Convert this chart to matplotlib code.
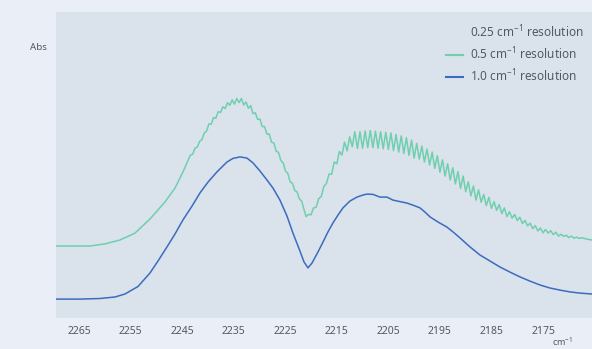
import matplotlib.pyplot as plt
from matplotlib.lines import Line2D

plt.rcParams['font.family'] = ['Noto Sans', 'DejaVu Sans']

# 1.0 cm-1 resolution (blue), wavenumber / absorbance
wn_10 = [2269.65, 2264.81, 2260.93, 2258.02, 2256.08, 2253.56, 2251.23, 2249.68, 2247.93,
         2246.38, 2244.83, 2243.08, 2241.53, 2239.98, 2238.24, 2236.30, 2235.13, 2233.77,
         2232.42, 2231.25, 2229.90, 2228.54, 2227.37, 2226.02, 2224.66, 2223.50, 2222.14,
         2221.36, 2220.59, 2219.81, 2218.65, 2217.68, 2216.71, 2215.74, 2214.77, 2213.80,
         2212.44, 2211.08, 2209.92, 2209.14, 2207.98, 2206.62, 2205.26, 2204.10, 2202.74,
         2201.38, 2200.03, 2198.86, 2197.89, 2196.92, 2195.37, 2193.63, 2192.46, 2191.11,
         2189.17, 2187.23, 2185.29, 2183.35, 2181.41, 2179.47, 2177.53, 2175.59, 2173.65,
         2171.71, 2169.77, 2167.83, 2165.50]
abs_10 = [0.063, 0.063, 0.065, 0.070, 0.080, 0.105, 0.150, 0.190, 0.237,
          0.280, 0.327, 0.373, 0.417, 0.453, 0.487, 0.520, 0.532, 0.537,
          0.533, 0.517, 0.490, 0.460, 0.433, 0.393, 0.340, 0.283, 0.223,
          0.187, 0.167, 0.183, 0.220, 0.253, 0.287, 0.317, 0.343, 0.367,
          0.390, 0.403, 0.410, 0.413, 0.412, 0.403, 0.403, 0.393, 0.388,
          0.383, 0.375, 0.367, 0.353, 0.337, 0.320, 0.303, 0.287, 0.267,
          0.237, 0.210, 0.190, 0.170, 0.153, 0.137, 0.123, 0.110, 0.100,
          0.093, 0.087, 0.083, 0.080]

# 0.5 cm-1 resolution (teal)
wn_05 = [2269.65, 2266.75, 2262.87, 2259.96, 2257.05, 2254.14, 2251.23, 2248.32, 2246.38, 2244.83,
         2243.40, 2242.95, 2242.50, 2242.05, 2241.60, 2241.15, 2240.70, 2240.25, 2239.80, 2239.35,
         2238.90, 2238.45, 2238.00, 2237.55, 2237.10, 2236.65, 2236.20, 2235.75, 2235.30, 2234.85,
         2234.40, 2233.95, 2233.50, 2233.05, 2232.60, 2232.15, 2231.70, 2231.25, 2230.80, 2230.35,
         2229.90, 2229.45, 2229.00, 2228.55, 2228.10, 2227.65, 2227.20, 2226.75, 2226.30, 2225.85,
         2225.40, 2224.95, 2224.50, 2224.05, 2223.60, 2223.15, 2222.70, 2222.25, 2221.80, 2221.35,
         2220.95,
         2220.5, 2220.0, 2219.5, 2219.0, 2218.5, 2218.0, 2217.5, 2217.0, 2216.5, 2216.0,
         2215.5, 2215.0, 2214.5, 2214.0, 2213.5, 2213.0, 2212.5, 2212.0, 2211.5, 2211.0,
         2210.5, 2210.0, 2209.5, 2209.0, 2208.5, 2208.0, 2207.5, 2207.0, 2206.5, 2206.0,
         2205.5, 2205.0, 2204.5, 2204.0, 2203.5, 2203.0, 2202.5, 2202.0, 2201.5, 2201.0,
         2200.5, 2200.0, 2199.5, 2199.0, 2198.5, 2198.0, 2197.5, 2197.0, 2196.5, 2196.0,
         2195.5, 2195.0, 2194.5, 2194.0, 2193.5, 2193.0, 2192.5, 2192.0, 2191.5, 2191.0,
         2190.5, 2190.0, 2189.5, 2189.0, 2188.5, 2188.0, 2187.5, 2187.0, 2186.5, 2186.0,
         2185.5, 2185.0, 2184.5, 2184.0, 2183.5, 2183.0, 2182.5, 2182.0, 2181.5, 2181.0,
         2180.5, 2180.0, 2179.5, 2179.0, 2178.5, 2178.0, 2177.5, 2177.0, 2176.5, 2176.0,
         2175.5, 2175.0, 2174.5, 2174.0, 2173.5, 2173.0, 2172.5, 2172.0, 2171.5, 2171.0,
         2170.5, 2170.0, 2169.5, 2169.0, 2168.5, 2168.0, 2167.5, 2166.5, 2165.5]
abs_05 = [0.240, 0.240, 0.240, 0.247, 0.260, 0.283, 0.330, 0.387, 0.433, 0.487,
          0.543, 0.546, 0.566, 0.570, 0.589, 0.595, 0.617, 0.623, 0.647, 0.646,
          0.668, 0.666, 0.688, 0.685, 0.704, 0.698, 0.718, 0.709, 0.727, 0.713,
          0.732, 0.718, 0.732, 0.710, 0.720, 0.699, 0.708, 0.681, 0.684, 0.662,
          0.663, 0.638, 0.638, 0.613, 0.613, 0.586, 0.583, 0.556, 0.552, 0.525,
          0.517, 0.490, 0.482, 0.454, 0.449, 0.425, 0.420, 0.397, 0.389, 0.361,
          0.338,
          0.345, 0.344, 0.367, 0.369, 0.398, 0.405, 0.439, 0.449, 0.480, 0.479,
          0.520, 0.514, 0.555, 0.543, 0.586, 0.557, 0.604, 0.571, 0.621, 0.565,
          0.621, 0.566, 0.623, 0.568, 0.625, 0.568, 0.623, 0.566, 0.621, 0.564,
          0.619, 0.562, 0.617, 0.558, 0.612, 0.553, 0.607, 0.548, 0.601, 0.542,
          0.593, 0.533, 0.582, 0.530, 0.573, 0.520, 0.563, 0.510, 0.553, 0.499,
          0.541, 0.486, 0.527, 0.473, 0.514, 0.460, 0.501, 0.447, 0.488, 0.432,
          0.473, 0.421, 0.454, 0.407, 0.440, 0.393, 0.427, 0.386, 0.412, 0.375,
          0.402, 0.365, 0.388, 0.359, 0.378, 0.348, 0.367, 0.338, 0.354, 0.333,
          0.345, 0.325, 0.336, 0.315, 0.325, 0.307, 0.316, 0.298, 0.308, 0.290,
          0.300, 0.284, 0.295, 0.283, 0.291, 0.278, 0.286, 0.273, 0.279, 0.272,
          0.276, 0.268, 0.273, 0.266, 0.2695, 0.2655, 0.2675, 0.263, 0.260]

ticks = [2265, 2255, 2245, 2235, 2225, 2215, 2205, 2195, 2185, 2175]
labels = ['0.25 cm$^{\\mathregular{-1}}$ resolution',
          '0.5 cm$^{\\mathregular{-1}}$ resolution',
          '1.0 cm$^{\\mathregular{-1}}$ resolution']

teal = '#6fcfae'
blue = '#3b6cc0'
grey = '#555a60'

fig = plt.figure(figsize=(5.92, 3.49), dpi=100, facecolor='#e9eef7')
ax = fig.add_axes([56/592, 1-318/349, 1-56/592, 306/349])
ax.set_facecolor('#dae2eb')

ax.plot(wn_05, abs_05, color=teal, lw=1.1)
ax.plot(wn_10, abs_10, color=blue, lw=1.1)

ax.set_xlim(2269.46, 2165.5)
ax.set_ylim(0, 1.02)
ax.set_xticks(ticks)
ax.set_xticklabels([str(t) for t in ticks])
ax.set_yticks([])
ax.tick_params(axis='x', length=0, pad=6, labelsize=7.5, labelcolor=grey)
for s in ax.spines.values():
    s.set_visible(False)

handles = [Line2D([], [], color='none', lw=1.5),
           Line2D([], [], color=teal, lw=1.5),
           Line2D([], [], color=blue, lw=1.5)]
fig.legend(handles, labels, loc='upper left', bbox_to_anchor=(446/592, 1-24/349),
           frameon=False, fontsize=8.5, handlelength=1.4, handletextpad=0.6,
           labelspacing=0.45, borderpad=0, borderaxespad=0, labelcolor=grey)

fig.text(47/592, 1-47/349, 'Abs', ha='right', va='center', fontsize=7, color=grey)
fig.text(552/592, 1-342/349, 'cm$^{\\mathregular{-1}}$', ha='left', va='center',
         fontsize=6.5, color=grey)

fig.savefig('out.png', dpi=100, facecolor=fig.get_facecolor())
